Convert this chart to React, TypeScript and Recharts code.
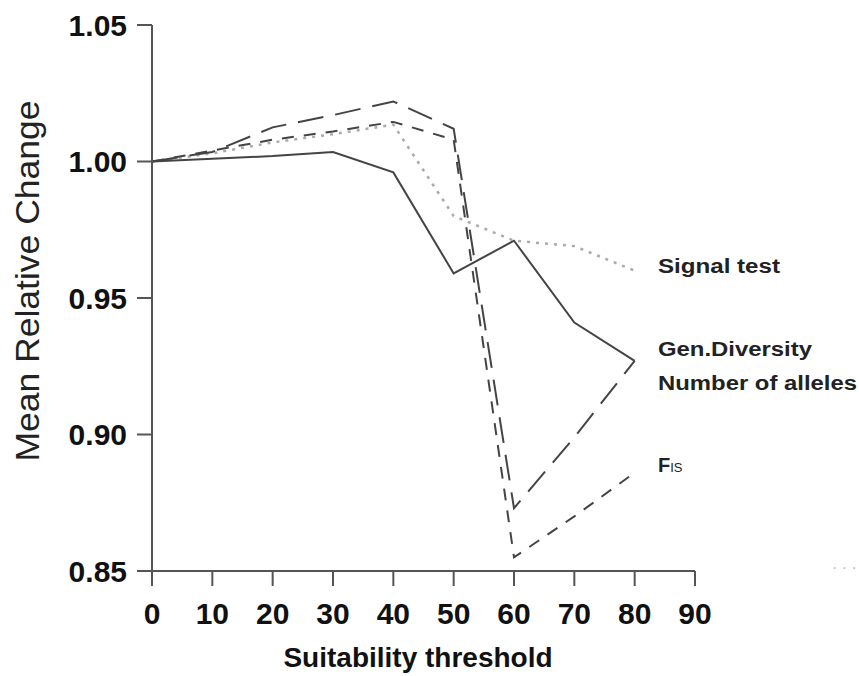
import { LineChart, Line, XAxis, YAxis } from 'recharts'

// Mean relative change vs. suitability threshold
const thresholds = [0, 10, 20, 30, 40, 50, 60, 70, 80]
const genDiversity = [1.0, 1.001, 1.002, 1.0035, 0.996, 0.959, 0.971, 0.941, 0.927]
const numberOfAlleles = [1.0, 1.0035, 1.0125, 1.017, 1.022, 1.012, 0.873, 0.899, 0.927]
const fis = [1.0, 1.004, 1.008, 1.011, 1.0145, 1.008, 0.855, 0.87, 0.886]
const signalTest = [1.0, 1.003, 1.007, 1.01, 1.0135, 0.98, 0.971, 0.969, 0.96]

const xTicks = [0, 10, 20, 30, 40, 50, 60, 70, 80, 90]
const yTicks = [0.85, 0.9, 0.95, 1.0, 1.05]

const data = thresholds.map((t, i) => ({
  threshold: t,
  genDiversity: genDiversity[i],
  numberOfAlleles: numberOfAlleles[i],
  fis: fis[i],
  signalTest: signalTest[i],
}))

const FONT = '"Liberation Sans", Arial, sans-serif'
const AXIS = '#555'

export default function App() {
  return (
    <div style={{ position: 'absolute', left: 0, top: 0, background: '#fff' }}>
      <LineChart
        width={859}
        height={676}
        data={data}
        margin={{ top: 25, right: 164, bottom: 0, left: 0 }}
      >
        <XAxis
          dataKey="threshold"
          type="number"
          domain={[0, 90]}
          ticks={xTicks}
          height={105}
          tickSize={15}
          tickMargin={17}
          axisLine={{ stroke: AXIS, strokeWidth: 2 }}
          tickLine={{ stroke: AXIS, strokeWidth: 2 }}
          tick={{ fill: '#111', fontSize: 30, fontWeight: 'bold', fontFamily: FONT }}
          label={{
            content: () => (
              <text
                x={418}
                y={667}
                textAnchor="middle"
                fontSize={28}
                fontWeight="bold"
                fontFamily={FONT}
                fill="#111"
              >
                Suitability threshold
              </text>
            ),
          }}
        />
        <YAxis
          type="number"
          domain={[0.85, 1.05]}
          ticks={yTicks}
          width={152}
          tickSize={15}
          tickMargin={10}
          tickFormatter={(v: number) => v.toFixed(2)}
          axisLine={{ stroke: AXIS, strokeWidth: 2 }}
          tickLine={{ stroke: AXIS, strokeWidth: 2 }}
          tick={{ fill: '#111', fontSize: 30, fontWeight: 'bold', fontFamily: FONT }}
          label={{
            content: () => (
              <text
                transform="translate(39,281) rotate(-90)"
                textAnchor="middle"
                fontSize={33}
                fontFamily={FONT}
                fill="#222"
                textLength={361}
                lengthAdjust="spacingAndGlyphs"
              >
                Mean Relative Change
              </text>
            ),
          }}
        />
        <Line
          dataKey="signalTest"
          name="Signal test"
          stroke="#aaa"
          strokeWidth={2.5}
          strokeDasharray="3 6"
          dot={false}
          isAnimationActive={false}
        />
        <Line
          dataKey="fis"
          name="FIS"
          stroke="#444"
          strokeWidth={2}
          strokeDasharray="12 10"
          dot={false}
          isAnimationActive={false}
        />
        <Line
          dataKey="numberOfAlleles"
          name="Number of alleles"
          stroke="#444"
          strokeWidth={2}
          strokeDasharray="26 12"
          dot={false}
          isAnimationActive={false}
        />
        <Line
          dataKey="genDiversity"
          name="Gen.Diversity"
          stroke="#444"
          strokeWidth={2}
          dot={false}
          isAnimationActive={false}
        />
        <g fontFamily={FONT} fontWeight="bold" fontSize={20} fill="#222">
          <text x={658} y={273} textLength={122} lengthAdjust="spacingAndGlyphs">
            Signal test
          </text>
          <text x={658} y={356} textLength={154} lengthAdjust="spacingAndGlyphs">
            Gen.Diversity
          </text>
          <text x={658} y={390} textLength={199} lengthAdjust="spacingAndGlyphs">
            Number of alleles
          </text>
          <text x={658} y={472}>
            F<tspan fontSize={13} fontWeight="normal">IS</tspan>
          </text>
          <text x={832} y={573} fill="#bbb" fontSize={16} fontWeight="normal">
            · · ·
          </text>
        </g>
      </LineChart>
    </div>
  )
}
